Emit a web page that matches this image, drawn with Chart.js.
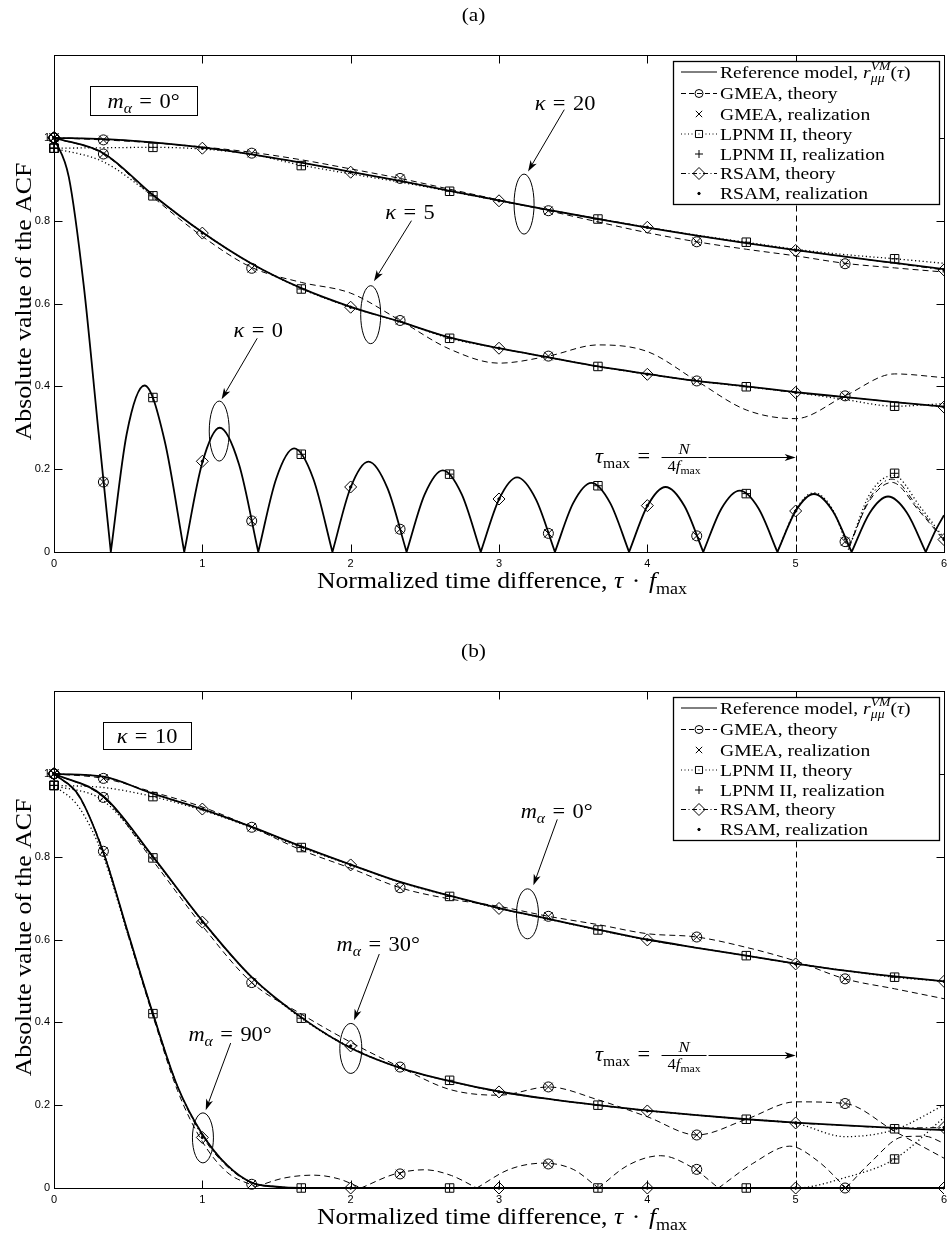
<!DOCTYPE html>
<html>
<head>
<meta charset="utf-8">
<title>ACF of the channel simulators</title>
<script src="https://cdn.jsdelivr.net/npm/chart.js@4.4.1/dist/chart.umd.min.js"></script>
<style>
  body { margin: 0; background: #fff; overflow: hidden; }
  canvas { position: absolute; left: 0; }
  #acfA { top: 0; }
  #acfB { top: 636px; }
</style>
</head>
<body>
<canvas id="acfA" width="947" height="600"></canvas>
<canvas id="acfB" width="947" height="600"></canvas>
<script>
// ---- axes ----
const xTicks = [0, 1, 2, 3, 4, 5, 6];
const yTicks = [0, 0.2, 0.4, 0.6, 0.8, 1];
const tauMax = 5;

// normalized time lag tau*fmax, sampled at the marker slots
const tau = [0, 0.333, 0.667, 1, 1.333, 1.667, 2, 2.333, 2.667, 3, 3.333, 3.667, 4, 4.333, 4.667, 5, 5.333, 5.667, 6];
const tauGmea = [0, 0.333, 1.333, 2.333, 3.333, 4.333, 5.333];
const tauLpnm = [0, 0.667, 1.667, 2.667, 3.667, 4.667, 5.667];
const tauRsam = [0, 1, 2, 3, 4, 5, 6];

// ---- (a) m_alpha = 0 deg, kappa = 20 ----
const k20Ref = [1, 0.997, 0.989, 0.977, 0.96, 0.94, 0.918, 0.896, 0.872, 0.849, 0.826, 0.804, 0.783, 0.764, 0.746, 0.729, 0.713, 0.698, 0.683];
const k20Gmea = [1, 0.995, 0.988, 0.978, 0.965, 0.947, 0.925, 0.902, 0.876, 0.85, 0.824, 0.797, 0.771, 0.749, 0.731, 0.715, 0.697, 0.686, 0.676];
const k20Lpnm = [0.975, 0.976, 0.977, 0.973, 0.96, 0.934, 0.913, 0.893, 0.871, 0.848, 0.826, 0.804, 0.784, 0.765, 0.748, 0.731, 0.718, 0.708, 0.697];
const k20Rsam = [1, 0.997, 0.989, 0.976, 0.96, 0.94, 0.918, 0.896, 0.872, 0.848, 0.826, 0.805, 0.784, 0.764, 0.746, 0.729, 0.713, 0.697, 0.681];
const k20GmeaMarks = [1, 0.995, 0.963, 0.902, 0.824, 0.749, 0.696];
const k20LpnmMarks = [0.975, 0.977, 0.933, 0.871, 0.804, 0.748, 0.708];
const k20RsamMarks = [1, 0.975, 0.917, 0.848, 0.784, 0.728, 0.681];

// ---- (a) kappa = 5 ----
const k5Ref = [1, 0.963, 0.862, 0.772, 0.696, 0.637, 0.592, 0.556, 0.518, 0.492, 0.47, 0.448, 0.43, 0.413, 0.4, 0.386, 0.374, 0.362, 0.351];
const k5Gmea = [1, 0.961, 0.857, 0.762, 0.687, 0.651, 0.625, 0.559, 0.49, 0.456, 0.473, 0.5, 0.484, 0.413, 0.343, 0.322, 0.377, 0.43, 0.421];
const k5Lpnm = [0.975, 0.942, 0.86, 0.772, 0.696, 0.636, 0.591, 0.556, 0.516, 0.492, 0.47, 0.448, 0.43, 0.413, 0.399, 0.385, 0.368, 0.352, 0.358];
const k5Rsam = [1, 0.963, 0.862, 0.771, 0.696, 0.637, 0.591, 0.556, 0.518, 0.492, 0.47, 0.448, 0.429, 0.413, 0.4, 0.385, 0.374, 0.362, 0.35];
const k5GmeaMarks = [1, 0.961, 0.685, 0.559, 0.473, 0.413, 0.377];
const k5LpnmMarks = [0.975, 0.86, 0.635, 0.516, 0.448, 0.399, 0.352];
const k5RsamMarks = [1, 0.77, 0.591, 0.492, 0.429, 0.385, 0.35];

// ---- (a) kappa = 0 (isotropic), one lobe per run, null splits the lobes ----
const tauK0 = [0, 0.1, 0.2, 0.3, 0.383, 0.383,
  0.383, 0.49, 0.61, 0.745, 0.878, 0.878,
  0.878, 0.997, 1.117, 1.247, 1.377, 1.377,
  1.377, 1.498, 1.619, 1.748, 1.877, 1.877,
  1.877, 1.998, 2.12, 2.248, 2.377, 2.377,
  2.377, 2.499, 2.621, 2.749, 2.877, 2.877,
  2.877, 3.0, 3.122, 3.249, 3.377, 3.377,
  3.377, 3.5, 3.623, 3.75, 3.877, 3.877,
  3.877, 4.0, 4.123, 4.25, 4.377, 4.377,
  4.377, 4.5, 4.623, 4.75, 4.877, 4.877,
  4.877, 5.0, 5.123, 5.25, 5.377, 5.377,
  5.377, 5.5, 5.623, 5.75, 5.877, 5.877,
  5.877, 5.94, 6];
const k0Ref = [1, 0.905, 0.645, 0.29, 0, null,
  0, 0.285, 0.402, 0.27, 0, null,
  0, 0.212, 0.3, 0.212, 0, null,
  0, 0.177, 0.25, 0.177, 0, null,
  0, 0.154, 0.218, 0.154, 0, null,
  0, 0.139, 0.197, 0.139, 0, null,
  0, 0.127, 0.18, 0.127, 0, null,
  0, 0.118, 0.167, 0.118, 0, null,
  0, 0.111, 0.157, 0.111, 0, null,
  0, 0.105, 0.148, 0.105, 0, null,
  0, 0.099, 0.14, 0.099, 0, null,
  0, 0.095, 0.134, 0.095, 0, null,
  0, 0.05, 0.089];
// the simulators only drift away from the reference past tau_max
const tauK0Lpnm = [4.877, 5.0, 5.123, 5.25, 5.355, 5.355, 5.355, 5.5, 5.66, 5.84, 6];
const k0Lpnm = [0, 0.102, 0.143, 0.102, 0.006, null, 0.006, 0.14, 0.185, 0.109, 0.033];
const tauK0Tail = [5.36, 5.5, 5.65, 5.83, 6];
const k0Gmea = [0.015, 0.125, 0.168, 0.1, 0.028];
const k0Rsam = [0.01, 0.13, 0.176, 0.105, 0.03];
const k0GmeaMarks = [1, 0.169, 0.075, 0.055, 0.045, 0.039, 0.025];
const k0LpnmMarks = [0.975, 0.373, 0.236, 0.188, 0.16, 0.141, 0.19];
const k0RsamMarks = [1, 0.219, 0.157, 0.128, 0.112, 0.099, 0.03];

// ---- (b) kappa = 10, m_alpha = 0 deg ----
const m0Ref = [1, 0.993, 0.952, 0.915, 0.872, 0.825, 0.781, 0.739, 0.706, 0.676, 0.65, 0.624, 0.6, 0.58, 0.561, 0.542, 0.525, 0.511, 0.499];
const m0Gmea = [1, 0.989, 0.956, 0.92, 0.871, 0.816, 0.772, 0.725, 0.698, 0.68, 0.656, 0.636, 0.614, 0.606, 0.581, 0.548, 0.505, 0.481, 0.457];
const m0Lpnm = [0.972, 0.967, 0.945, 0.912, 0.87, 0.822, 0.78, 0.738, 0.705, 0.675, 0.649, 0.623, 0.599, 0.58, 0.561, 0.542, 0.525, 0.509, 0.499];
const m0Rsam = [1, 0.993, 0.952, 0.915, 0.872, 0.825, 0.781, 0.739, 0.706, 0.675, 0.65, 0.624, 0.599, 0.58, 0.561, 0.541, 0.525, 0.511, 0.499];
const m0GmeaMarks = [1, 0.989, 0.871, 0.725, 0.656, 0.606, 0.505];
const m0LpnmMarks = [0.972, 0.945, 0.822, 0.704, 0.623, 0.561, 0.509];
const m0RsamMarks = [1, 0.915, 0.78, 0.675, 0.599, 0.541, 0.499];

// ---- (b) m_alpha = 30 deg ----
const m30Ref = [1, 0.946, 0.8, 0.645, 0.509, 0.412, 0.338, 0.29, 0.258, 0.233, 0.215, 0.2, 0.187, 0.176, 0.166, 0.158, 0.151, 0.145, 0.14];
const m30Gmea = [1, 0.943, 0.79, 0.633, 0.496, 0.42, 0.352, 0.292, 0.238, 0.224, 0.244, 0.213, 0.172, 0.128, 0.166, 0.208, 0.204, 0.137, 0.072];
const m30Lpnm = [0.972, 0.935, 0.797, 0.645, 0.509, 0.41, 0.338, 0.29, 0.258, 0.233, 0.215, 0.2, 0.187, 0.176, 0.166, 0.156, 0.124, 0.141, 0.2];
const m30Rsam = [1, 0.946, 0.8, 0.643, 0.509, 0.412, 0.34, 0.29, 0.258, 0.232, 0.215, 0.2, 0.186, 0.176, 0.166, 0.157, 0.151, 0.145, 0.146];
const m30GmeaMarks = [1, 0.943, 0.496, 0.292, 0.244, 0.128, 0.204];
const m30LpnmMarks = [0.972, 0.797, 0.41, 0.26, 0.2, 0.166, 0.143];
const m30RsamMarks = [1, 0.642, 0.343, 0.232, 0.186, 0.157, 0.146];

// ---- (b) m_alpha = 90 deg ----
const tauM90 = [0, 0.167, 0.333, 0.5, 0.667, 0.833, 1, 1.167, 1.333, 1.5, 1.667, 2, 3, 4, 5, 6];
const m90Ref = [1, 0.948, 0.81, 0.615, 0.421, 0.245, 0.13, 0.055, 0.013, 0.003, 0, 0, 0, 0, 0, 0];
const m90Rsam = [1, 0.948, 0.81, 0.615, 0.421, 0.245, 0.125, 0.052, 0.012, 0.003, 0, 0, 0, 0, 0, 0];
const tauM90Lpnm = [0, 0.167, 0.333, 0.5, 0.667, 0.833, 1, 1.167, 1.333, 1.5, 1.667, 2, 3, 4, 5, 5.333, 5.667, 6];
const m90Lpnm = [0.972, 0.92, 0.8, 0.61, 0.421, 0.245, 0.13, 0.055, 0.013, 0.003, 0, 0, 0, 0, 0, 0.025, 0.07, 0.17];
const tauM90Gmea = [0, 0.167, 0.333, 0.5, 0.667, 0.833, 1, 1.167, 1.36, 1.36,
  1.36, 1.55, 1.75, 1.92, 2.07, 2.07,
  2.07, 2.3, 2.5, 2.68, 2.85, 2.85,
  2.85, 3.07, 3.3, 3.5, 3.67, 3.67,
  3.67, 3.87, 4.09, 4.3, 4.48, 4.48,
  4.48, 4.71, 4.96, 5.15, 5.34, 5.34,
  5.34, 5.5, 5.73, 5.87, 6];
const m90Gmea = [1, 0.945, 0.813, 0.61, 0.415, 0.235, 0.112, 0.038, 0.003, null,
  0.003, 0.024, 0.031, 0.022, 0, null,
  0, 0.034, 0.044, 0.03, 0, null,
  0, 0.045, 0.06, 0.045, 0, null,
  0, 0.055, 0.078, 0.05, 0, null,
  0, 0.059, 0.101, 0.065, 0, null,
  0, 0.06, 0.124, 0.125, 0.108];
const m90GmeaMarks = [1, 0.813, 0.009, 0.034, 0.058, 0.045, 0];
const m90LpnmMarks = [0.972, 0.421, 0, 0, 0, 0, 0.07];
const m90RsamMarks = [1, 0.122, 0, 0, 0, 0, 0];

const legendLabels = ['GMEA, theory', 'GMEA, realization', 'LPNM II, theory', 'LPNM II, realization', 'RSAM, theory', 'RSAM, realization'];

const SERIF = '"Liberation Serif", "Times New Roman", serif';
const WIDE = 1.12;          // horizontal stretch for the serif labels
const EQ = '\u2004=\u2004'; // math-style spacing around "="
Chart.defaults.font.family = '"Liberation Sans", Arial, sans-serif';
Chart.defaults.color = '#000';

const LINE = {
  ref:  { w: 1.8, dash: [] },
  gmea: { w: 1, dash: [6, 4] },
  lpnm: { w: 1.3, dash: [1.2, 2.6] },
  rsam: { w: 1, dash: [6, 3, 1.5, 3] }
};

const pts = (xs, ys) => xs.map((x, i) => ({ x, y: ys[i] }));

function lineSet(xs, ys, kind) {
  return {
    data: pts(xs, ys), showLine: true, spanGaps: false,
    pointRadius: 0, borderColor: '#000',
    borderWidth: LINE[kind].w, borderDash: LINE[kind].dash,
    cubicInterpolationMode: 'monotone',
    order: kind === 'ref' ? 1 : 2
  };
}

function markSet(xs, ys, style, radius, fill) {
  return {
    data: pts(xs, ys), showLine: false,
    pointStyle: style, pointRadius: radius, pointBorderWidth: 1,
    pointBorderColor: '#000', pointBackgroundColor: fill || 'rgba(0,0,0,0)',
    order: 0, clip: { left: false, top: false, right: 0, bottom: false }
  };
}

// one parameter setting: reference + three simulators, theory lines and realization markers
function group(g) {
  return [
    lineSet(g.gmea[0], g.gmea[1], 'gmea'),
    lineSet(g.lpnm[0], g.lpnm[1], 'lpnm'),
    lineSet(g.rsam[0], g.rsam[1], 'rsam'),
    lineSet(g.ref[0], g.ref[1], 'ref'),
    markSet(tauGmea, g.marks[0], 'circle', 5),
    markSet(tauGmea, g.marks[0], 'crossRot', 6),
    markSet(tauLpnm, g.marks[1], 'rect', 6),
    markSet(tauLpnm, g.marks[1], 'cross', 4),
    markSet(tauRsam, g.marks[2], 'rectRot', 6),
    markSet(tauRsam, g.marks[2], 'circle', 1.2, '#000')
  ];
}

// text with italic runs and sub/superscripts: [text, flags], flags i = italic, _ = sub, ^ = sup, < = stack on previous run
function mathText(ctx, parts, x, y, size, align) {
  const runs = [];
  let cursor = 0, prevStart = 0, prevW = 0;
  for (const [t, f = ''] of parts) {
    const small = f.includes('_') || f.includes('^');
    const font = (f.includes('i') ? 'italic ' : '') + (small ? size * 0.7 : size) + 'px ' + SERIF;
    ctx.font = font;
    const w = ctx.measureText(t).width * WIDE;
    const start = f.includes('<') ? prevStart : cursor;
    const dy = f.includes('_') ? size * 0.25 : f.includes('^') ? -size * 0.42 : 0;
    runs.push({ t, font, start, dy });
    cursor = f.includes('<') ? prevStart + Math.max(prevW, w) : start + w;
    prevStart = start; prevW = w;
  }
  const x0 = align === 'center' ? x - cursor / 2 : align === 'right' ? x - cursor : x;
  ctx.textAlign = 'left'; ctx.textBaseline = 'alphabetic';
  for (const r of runs) {
    ctx.save();
    ctx.font = r.font;
    ctx.translate(x0 + r.start, y + r.dy);
    ctx.scale(WIDE, 1);
    ctx.fillText(r.t, 0, 0);
    ctx.restore();
  }
  return cursor;
}

function arrow(ctx, x0, y0, x1, y1) {
  const ang = Math.atan2(y1 - y0, x1 - x0);
  ctx.beginPath();
  ctx.moveTo(x0, y0);
  ctx.lineTo(x1 - Math.cos(ang) * 6, y1 - Math.sin(ang) * 6);
  ctx.stroke();
  ctx.save();
  ctx.translate(x1, y1); ctx.rotate(ang);
  ctx.beginPath();
  ctx.moveTo(0, 0); ctx.lineTo(-11, -3.6); ctx.lineTo(-8, 0); ctx.lineTo(-11, 3.6);
  ctx.closePath(); ctx.fill();
  ctx.restore();
}

const legendRows = [
  { dash: [], mark: null },
  { dash: [5, 3], mark: { pointStyle: 'circle', radius: 4 } },
  { dash: null, mark: { pointStyle: 'crossRot', radius: 4.5 } },
  { dash: [1, 2.5], mark: { pointStyle: 'rect', radius: 5 } },
  { dash: null, mark: { pointStyle: 'cross', radius: 4 } },
  { dash: [5, 2.5, 1, 2.5], mark: { pointStyle: 'rectRot', radius: 6 } },
  { dash: null, mark: { pointStyle: 'circle', radius: 1.2 }, solid: true }
];
const legendRowY = [11, 32.5, 53, 73, 93, 112.5, 132.5];

const decor = {
  id: 'acfDecor',
  afterDraw(chart, args, o) {
    const { ctx, chartArea: a, scales: { x, y } } = chart;
    const ax = v => x.getPixelForValue(v), ay = v => y.getPixelForValue(v);
    const L = Math.round(a.left) + 0.5, R = Math.round(a.right) + 0.5;
    const T = Math.round(a.top) + 0.5, B = Math.round(a.bottom) + 0.5;
    ctx.save();
    ctx.strokeStyle = '#000'; ctx.fillStyle = '#000'; ctx.lineWidth = 1;
    ctx.setLineDash([]);

    // frame and inward ticks
    ctx.strokeRect(L, T, R - L, B - T);
    ctx.beginPath();
    xTicks.forEach(v => { const p = Math.round(ax(v)) + 0.5; ctx.moveTo(p, B); ctx.lineTo(p, B - 8); ctx.moveTo(p, T); ctx.lineTo(p, T + 8); });
    yTicks.forEach(v => { const p = Math.round(ay(v)) + 0.5; ctx.moveTo(L, p); ctx.lineTo(L + 8, p); ctx.moveTo(R, p); ctx.lineTo(R - 8, p); });
    ctx.stroke();

    // tau_max marker line
    const px5 = Math.round(ax(tauMax)) + 0.5;
    ctx.setLineDash([6, 4]);
    ctx.beginPath(); ctx.moveTo(px5, T); ctx.lineTo(px5, B); ctx.stroke();
    ctx.setLineDash([]);

    // panel title and axis titles
    mathText(ctx, [[o.title]], chart.width / 2, 21, 19, 'center');
    mathText(ctx, [['Normalized time difference, '], ['τ', 'i'], ['\u2004·\u2004'], ['f', 'i'], ['max', '_']], (a.left + a.right) / 2 + 3, 588, 23, 'center');
    ctx.save();
    ctx.translate(31, (a.top + a.bottom) / 2 - 2);
    ctx.rotate(-Math.PI / 2);
    mathText(ctx, [['Absolute value of the ACF']], 0, 0, 23, 'center');
    ctx.restore();

    // boxed parameter
    const b = o.box;
    const bx0 = ax(b.x[0]), bx1 = ax(b.x[1]), by0 = ay(b.y[0]), by1 = ay(b.y[1]);
    ctx.fillStyle = '#fff';
    ctx.fillRect(bx0, by0, bx1 - bx0, by1 - by0);
    ctx.strokeRect(Math.round(bx0) + 0.5, Math.round(by0) + 0.5, Math.round(bx1 - bx0), Math.round(by1 - by0));
    ctx.fillStyle = '#000';
    mathText(ctx, b.label, (bx0 + bx1) / 2, (by0 + by1) / 2 + 7, 20, 'center');

    // callouts: label, arrow and ring around the curve family
    o.callouts.forEach(c => {
      mathText(ctx, c.label, ax(c.at[0]), ay(c.at[1]) + 7, 20, 'center');
      arrow(ctx, ax(c.from[0]), ay(c.from[1]), ax(c.to[0]), ay(c.to[1]));
      ctx.beginPath();
      ctx.ellipse(ax(c.ring[0]), ay(c.ring[1]), c.rx, c.ry, 0, 0, Math.PI * 2);
      ctx.stroke();
    });

    // tau_max = N / (4 f_max) with arrow to the dashed line
    const yb = Math.round(ay(o.tauY)) + 0.5;
    const w = mathText(ctx, [['τ', 'i'], ['max', '_'], [EQ]], ax(3.647), yb + 5, 20, 'left');
    const fx = ax(3.647) + w + 4, fw = 45;
    mathText(ctx, [['N', 'i']], fx + fw / 2, yb - 4, 15, 'center');
    mathText(ctx, [['4'], ['f', 'i'], ['max', '_']], fx + fw / 2, yb + 13, 15, 'center');
    ctx.beginPath(); ctx.moveTo(fx, yb); ctx.lineTo(fx + fw, yb); ctx.stroke();
    arrow(ctx, fx + fw + 2, yb, ax(tauMax), yb);

    // legend
    const lx = Math.round(a.right) - 271, ly = Math.round(a.top) + 6;
    ctx.fillStyle = '#fff';
    ctx.fillRect(lx, ly, 266, 143);
    ctx.lineWidth = 1.3;
    ctx.strokeRect(lx + 0.5, ly + 0.5, 266, 143);
    ctx.lineWidth = 1;
    legendRows.forEach((r, i) => {
      const ry = ly + legendRowY[i];
      if (r.dash) {
        ctx.setLineDash(r.dash);
        ctx.beginPath(); ctx.moveTo(lx + 8, ry); ctx.lineTo(lx + 44, ry); ctx.stroke();
        ctx.setLineDash([]);
      }
      if (r.mark) {
        ctx.fillStyle = r.solid ? '#000' : 'rgba(0,0,0,0)';
        Chart.helpers.drawPoint(ctx, { ...r.mark, rotation: 0, borderWidth: 1 }, lx + 26, ry);
      }
      ctx.fillStyle = '#000';
      const parts = i === 0
        ? [['Reference model, '], ['r', 'i'], ['μμ', 'i_'], ['VM', 'i^<'], ['('], ['τ', 'i'], [')']]
        : [[legendLabels[i - 1]]];
      mathText(ctx, parts, lx + 47, ry + 5.5, 17.5, 'left');
    });
    ctx.restore();
  }
};

function acfChart(id, groups, notes) {
  return new Chart(document.getElementById(id), {
    type: 'scatter',
    data: { datasets: groups.flatMap(group) },
    plugins: [decor],
    options: {
      responsive: false, animation: false, devicePixelRatio: 1, events: [],
      layout: { autoPadding: false, padding: { top: 55, right: 3, left: 0, bottom: 0 } },
      plugins: { legend: { display: false }, tooltip: { enabled: false }, acfDecor: notes },
      scales: {
        x: {
          type: 'linear', min: 0, max: 6,
          grid: { display: false, drawTicks: false }, border: { display: false },
          afterBuildTicks: s => { s.ticks = xTicks.map(value => ({ value })); },
          afterFit: s => { s.height = 48; s.paddingLeft = 0; s.paddingRight = 0; },
          ticks: { font: { size: 11 }, padding: 5, maxRotation: 0, autoSkip: false }
        },
        y: {
          type: 'linear', min: 0, max: 1.2,
          grid: { display: false, drawTicks: false }, border: { display: false },
          afterBuildTicks: s => { s.ticks = yTicks.map(value => ({ value })); },
          afterFit: s => { s.width = 54; },
          ticks: { font: { size: 11 }, padding: 4, callback: v => String(v) }
        }
      }
    }
  });
}

acfChart('acfA', [
  { ref: [tau, k20Ref], gmea: [tau, k20Gmea], lpnm: [tau, k20Lpnm], rsam: [tau, k20Rsam], marks: [k20GmeaMarks, k20LpnmMarks, k20RsamMarks] },
  { ref: [tau, k5Ref], gmea: [tau, k5Gmea], lpnm: [tau, k5Lpnm], rsam: [tau, k5Rsam], marks: [k5GmeaMarks, k5LpnmMarks, k5RsamMarks] },
  { ref: [tauK0, k0Ref], gmea: [tauK0Tail, k0Gmea], lpnm: [tauK0Lpnm, k0Lpnm], rsam: [tauK0Tail, k0Rsam], marks: [k0GmeaMarks, k0LpnmMarks, k0RsamMarks] }
], {
  title: '(a)',
  box: { x: [0.243, 0.964], y: [1.124, 1.055], label: [['m', 'i'], ['α', 'i_'], [EQ + '0°']] },
  callouts: [
    { label: [['κ', 'i'], [EQ + '20']], at: [3.445, 1.085], from: [3.44, 1.068], to: [3.196, 0.919], ring: [3.169, 0.84], rx: 10, ry: 30 },
    { label: [['κ', 'i'], [EQ + '5']], at: [2.4, 0.82], from: [2.41, 0.8], to: [2.157, 0.654], ring: [2.135, 0.573], rx: 10, ry: 29 },
    { label: [['κ', 'i'], [EQ + '0']], at: [1.377, 0.535], from: [1.37, 0.516], to: [1.13, 0.369], ring: [1.114, 0.292], rx: 10, ry: 30 }
  ],
  tauY: 0.229
});

acfChart('acfB', [
  { ref: [tau, m0Ref], gmea: [tau, m0Gmea], lpnm: [tau, m0Lpnm], rsam: [tau, m0Rsam], marks: [m0GmeaMarks, m0LpnmMarks, m0RsamMarks] },
  { ref: [tau, m30Ref], gmea: [tau, m30Gmea], lpnm: [tau, m30Lpnm], rsam: [tau, m30Rsam], marks: [m30GmeaMarks, m30LpnmMarks, m30RsamMarks] },
  { ref: [tauM90, m90Ref], gmea: [tauM90Gmea, m90Gmea], lpnm: [tauM90Lpnm, m90Lpnm], rsam: [tauM90, m90Rsam], marks: [m90GmeaMarks, m90LpnmMarks, m90RsamMarks] }
], {
  title: '(b)',
  box: { x: [0.332, 0.922], y: [1.124, 1.058], label: [['κ', 'i'], [EQ + '10']] },
  callouts: [
    { label: [['m', 'i'], ['α', 'i_'], [EQ + '0°']], at: [3.389, 0.91], from: [3.393, 0.89], to: [3.232, 0.731], ring: [3.192, 0.662], rx: 11, ry: 25 },
    { label: [['m', 'i'], ['α', 'i_'], [EQ + '30°']], at: [2.186, 0.589], from: [2.193, 0.565], to: [2.023, 0.405], ring: [2.001, 0.337], rx: 11, ry: 25 },
    { label: [['m', 'i'], ['α', 'i_'], [EQ + '90°']], at: [1.187, 0.373], from: [1.191, 0.35], to: [1.023, 0.188], ring: [1.004, 0.121], rx: 10.5, ry: 25 }
  ],
  tauY: 0.322
});
</script>
</body>
</html>
